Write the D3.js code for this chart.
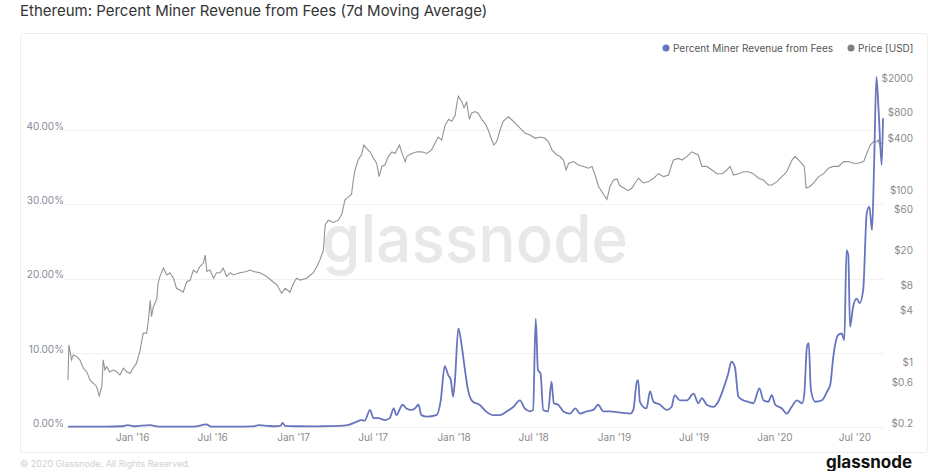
<!DOCTYPE html>
<html>
<head>
<meta charset="utf-8">
<script src="https://cdn.jsdelivr.net/npm/d3@7"></script>
<style>
  body { margin: 0; background: #fff; }
  svg { font-family: Inter, "Noto Sans", sans-serif; }
</style>
</head>
<body>
<div id="d3-container"></div>
<script>
const price = [
  ["2015-08-08",0.70],["2015-08-10",1.79],["2015-08-16",1.20],["2015-08-20",1.37],["2015-08-28",1.31],["2015-09-04",1.20],["2015-09-12",0.96],["2015-09-20",0.87],["2015-09-27",0.70],["2015-10-05",0.64],["2015-10-12",0.59],["2015-10-18",0.46],["2015-10-24",0.59],["2015-10-27",1.20],["2015-10-31",0.92],["2015-11-04",1.00],["2015-11-11",0.87],["2015-11-19",0.92],["2015-11-27",0.87],["2015-12-04",0.80],["2015-12-12",0.96],["2015-12-20",0.87],["2015-12-27",0.84],
  ["2016-01-03",0.96],["2016-01-11",1.10],["2016-01-19",1.56],["2016-01-26",2.45],["2016-02-03",2.45],["2016-02-07",3.5],["2016-02-11",5.9],["2016-02-14",3.8],["2016-02-18",4.9],["2016-02-26",6.1],["2016-02-29",9.3],["2016-03-04",11.1],["2016-03-12",13.9],["2016-03-20",11.6],["2016-03-27",12.3],["2016-04-04",10.6],["2016-04-11",8.1],["2016-04-19",7.7],["2016-04-26",7.3],["2016-05-04",9.6],["2016-05-12",10.1],["2016-05-19",13.2],["2016-05-27",12.3],["2016-06-03",14.5],["2016-06-11",15.9],["2016-06-15",19.7],["2016-06-19",12.7],["2016-06-26",13.2],["2016-07-04",10.6],["2016-07-11",12.3],["2016-07-19",12.3],["2016-07-26",13.9],["2016-08-03",11.1],["2016-08-11",12.3],["2016-08-18",11.6],["2016-09-02",12.3],["2016-09-18",12.7],["2016-09-25",13.2],["2016-10-03",12.7],["2016-10-18",12.3],["2016-11-02",11.1],["2016-11-17",9.6],["2016-11-25",8.9],["2016-12-02",7.7],["2016-12-06",7.1],["2016-12-14",8.1],["2016-12-25",7.3],
  ["2017-01-02",9.3],["2017-01-09",10.6],["2017-01-17",10.1],["2017-02-01",10.6],["2017-02-16",12.3],["2017-02-24",14.5],["2017-03-03",17.3],["2017-03-11",22.5],["2017-03-15",44],["2017-03-22",50],["2017-04-03",47],["2017-04-14",50],["2017-04-22",59],["2017-04-29",86],["2017-05-07",93],["2017-05-14",100],["2017-05-18",146],["2017-05-22",191],["2017-05-29",249],["2017-06-06",290],["2017-06-11",372],["2017-06-17",340],["2017-06-25",310],["2017-07-03",260],["2017-07-10",229],["2017-07-16",160],["2017-07-22",210],["2017-07-29",218],["2017-08-06",275],["2017-08-14",310],["2017-08-21",297],["2017-08-31",372],["2017-09-05",310],["2017-09-13",239],["2017-09-17",275],["2017-09-28",297],["2017-10-10",310],["2017-10-21",310],["2017-11-01",297],["2017-11-12",326],["2017-11-20",390],["2017-11-27",460],["2017-12-05",425],["2017-12-13",635],["2017-12-21",740],["2017-12-28",700],
  ["2018-01-05",829],["2018-01-08",1082],["2018-01-12",1370],["2018-01-20",1170],["2018-01-25",1010],["2018-01-31",1170],["2018-02-06",740],["2018-02-11",870],["2018-02-19",910],["2018-02-26",870],["2018-03-06",740],["2018-03-14",660],["2018-03-21",555],["2018-03-29",425],["2018-04-03",372],["2018-04-09",405],["2018-04-17",555],["2018-04-24",700],["2018-05-06",790],["2018-05-14",725],["2018-05-25",635],["2018-06-02",580],["2018-06-13",510],["2018-06-24",486],["2018-07-06",445],["2018-07-17",460],["2018-07-28",445],["2018-08-05",405],["2018-08-13",326],["2018-08-24",285],["2018-08-31",275],["2018-09-08",249],["2018-09-14",191],["2018-09-20",229],["2018-10-01",239],["2018-10-12",218],["2018-10-24",210],["2018-11-04",200],["2018-11-12",210],["2018-11-19",167],["2018-11-27",123],["2018-12-08",100],["2018-12-16",87],["2018-12-23",123],["2018-12-31",146],
  ["2019-01-08",150],["2019-01-14",126],["2019-01-23",118],["2019-02-02",110],["2019-02-11",118],["2019-02-18",135],["2019-02-26",153],["2019-03-09",135],["2019-03-21",140],["2019-04-01",153],["2019-04-12",173],["2019-04-24",160],["2019-05-05",167],["2019-05-16",249],["2019-05-28",260],["2019-06-05",249],["2019-06-16",275],["2019-06-27",310],["2019-07-05",297],["2019-07-12",285],["2019-07-20",210],["2019-07-31",210],["2019-08-12",191],["2019-08-23",173],["2019-09-04",173],["2019-09-15",191],["2019-09-22",210],["2019-09-30",167],["2019-10-11",173],["2019-10-23",182],["2019-11-03",182],["2019-11-14",173],["2019-11-26",153],["2019-12-07",146],["2019-12-18",128],["2019-12-26",128],
  ["2020-01-07",140],["2020-01-18",160],["2020-01-29",182],["2020-02-10",249],["2020-02-17",275],["2020-02-28",240],["2020-03-09",210],["2020-03-13",118],["2020-03-22",123],["2020-03-30",135],["2020-04-11",160],["2020-04-22",173],["2020-05-03",200],["2020-05-14",210],["2020-05-26",210],["2020-06-06",239],["2020-06-17",239],["2020-06-29",229],["2020-07-10",229],["2020-07-22",239],["2020-07-29",297],["2020-08-06",372],["2020-08-13",405],["2020-08-21",405],["2020-08-24",425],["2020-08-28",372],["2020-09-01",390],["2020-09-04",405]
];

const feePct = [
  ["2015-08-08",0.05],["2015-09-15",0.05],["2015-11-01",0.05],["2015-12-10",0.1],["2015-12-22",0.25],["2016-01-05",0.1],["2016-02-10",0.25],["2016-03-01",0.05],["2016-04-15",0.05],["2016-05-20",0.05],["2016-06-18",0.35],["2016-06-28",0.05],["2016-08-15",0.05],["2016-10-01",0.08],["2016-10-15",0.25],["2016-11-05",0.15],["2016-11-20",0.1],["2016-12-04",0.2],["2016-12-08",0.55],["2016-12-14",0.15],
  ["2017-01-10",0.1],["2017-02-15",0.08],["2017-03-20",0.12],["2017-04-15",0.15],["2017-05-05",0.25],["2017-05-25",0.7],["2017-06-05",0.94],["2017-06-13",0.85],["2017-06-25",2.3],["2017-07-03",1.2],["2017-07-14",1.2],["2017-07-29",0.94],["2017-08-09",1.2],["2017-08-18",2.5],["2017-08-24",1.6],["2017-09-07",3.0],["2017-09-16",2.5],["2017-09-27",2.3],["2017-10-05",2.5],["2017-10-13",3.0],["2017-10-20",1.6],["2017-11-01",1.4],["2017-11-23",1.6],["2017-12-03",3.6],["2017-12-12",8.2],["2017-12-20",7.0],["2017-12-26",6.3],["2017-12-31",4.1],
  ["2018-01-04",6.1],["2018-01-12",13.3],["2018-01-20",10.8],["2018-01-27",7.7],["2018-02-03",5.0],["2018-02-14",3.4],["2018-03-01",3.0],["2018-03-16",2.1],["2018-04-01",1.6],["2018-04-16",1.6],["2018-05-02",2.1],["2018-05-17",2.7],["2018-06-01",3.6],["2018-06-12",2.5],["2018-06-24",2.1],["2018-07-01",2.3],["2018-07-07",14.6],["2018-07-12",7.7],["2018-07-18",7.2],["2018-07-24",2.3],["2018-08-04",2.1],["2018-08-12",6.1],["2018-08-17",3.2],["2018-08-27",3.0],["2018-09-08",2.1],["2018-09-23",1.8],["2018-10-05",2.5],["2018-10-16",1.8],["2018-10-31",2.1],["2018-11-15",2.3],["2018-11-26",3.0],["2018-12-08",2.1],["2018-12-23",2.1],
  ["2019-01-08",2.0],["2019-01-22",1.9],["2019-02-07",1.8],["2019-02-14",2.3],["2019-02-22",6.1],["2019-02-25",6.3],["2019-03-01",3.4],["2019-03-16",2.5],["2019-03-24",4.8],["2019-04-01",3.4],["2019-04-16",3.0],["2019-05-01",2.3],["2019-05-12",2.7],["2019-05-19",4.3],["2019-05-31",3.6],["2019-06-16",3.6],["2019-07-01",4.5],["2019-07-12",3.2],["2019-07-20",3.9],["2019-07-31",3.0],["2019-08-15",2.7],["2019-08-26",3.4],["2019-09-06",5.0],["2019-09-18",7.2],["2019-09-25",8.8],["2019-10-03",8.1],["2019-10-11",4.1],["2019-10-22",3.6],["2019-11-03",3.4],["2019-11-14",3.2],["2019-11-28",5.2],["2019-12-07",3.6],["2019-12-18",3.4],["2019-12-26",4.3],
  ["2020-01-03",3.0],["2020-01-18",2.5],["2020-01-29",1.8],["2020-02-09",2.7],["2020-02-21",3.6],["2020-03-04",3.2],["2020-03-09",4.5],["2020-03-15",10.8],["2020-03-19",11.3],["2020-03-24",5.0],["2020-04-03",3.4],["2020-04-18",3.6],["2020-04-30",4.8],["2020-05-07",5.7],["2020-05-14",9.5],["2020-05-25",12.4],["2020-06-02",12.6],["2020-06-08",11.7],["2020-06-13",23.8],["2020-06-17",23.2],["2020-06-21",13.5],["2020-06-28",16.2],["2020-07-06",17.3],["2020-07-13",16.7],["2020-07-21",18.5],["2020-07-29",28.8],["2020-08-04",29.7],["2020-08-10",26.5],["2020-08-15",36.0],["2020-08-20",47.2],["2020-08-25",42.7],["2020-09-01",35.3],["2020-09-04",41.6]
];

const pctTicks = [0, 10, 20, 30, 40];
const priceTicks = [0.2, 0.6, 1, 4, 8, 20, 60, 100, 400, 800, 2000];
const dateTicks = ["2016-01-01","2016-07-01","2017-01-01","2017-07-01","2018-01-01","2018-07-01","2019-01-01","2019-07-01","2020-01-01","2020-07-01"];

const width = 945;
const height = 471;
const margin = { top: 82, bottom: 44, left: 68, right: 62 };

const parse = d3.timeParse("%Y-%m-%d");
const priceData = price.map(d => ({ date: parse(d[0]), value: d[1] }));
const feeData = feePct.map(d => ({ date: parse(d[0]), value: d[1] }));

const svg = d3.select('#d3-container')
  .append('svg')
  .attr('width', width)
  .attr('height', height)
  .attr("viewBox", [0, 0, width, height]);

// panel
svg.append("rect")
  .attr("x", 20.5).attr("y", 33.5)
  .attr("width", 907).attr("height", 419)
  .attr("rx", 3)
  .attr("fill", "#fff")
  .attr("stroke", "#ededed");

svg.append("text")
  .attr("x", 20).attr("y", 16)
  .attr("fill", "#333")
  .attr("font-size", 15)
  .text("Ethereum: Percent Miner Revenue from Fees (7d Moving Average)");

const x = d3.scaleTime()
  .domain(d3.extent(priceData, d => d.date))
  .range([margin.left, width - margin.right]);

const yPct = d3.scaleLinear()
  .domain([0, 46.5])
  .range([height - margin.bottom, margin.top]);

const yPrice = d3.scaleLog()
  .domain([0.2, 2000])
  .range([height - margin.bottom, margin.top]);

// gridlines
svg.append("g")
  .selectAll("line")
  .data(pctTicks)
  .join("line")
    .attr("x1", margin.left - 4)
    .attr("x2", width - margin.right)
    .attr("y1", d => Math.round(yPct(d)) + 0.5)
    .attr("y2", d => Math.round(yPct(d)) + 0.5)
    .attr("stroke", "#f1f1f1");

// watermark
svg.append("text")
  .attr("x", 322).attr("y", 262)
  .attr("fill", "#e8e8e8")
  .attr("font-size", 66)
  .attr("font-weight", 500)
  .attr("textLength", 306)
  .attr("lengthAdjust", "spacingAndGlyphs")
  .text("glassnode");

function yAxisLeft(g) {
  g.attr("transform", `translate(${margin.left - 4}, -4)`)
    .call(d3.axisLeft(yPct).tickValues(pctTicks).tickSize(0).tickPadding(0).tickFormat(d => d.toFixed(2) + "%"))
    .call(g => g.select(".domain").remove())
    .attr("font-size", 10)
    .attr("font-family", null)
    .selectAll("text").attr("fill", "#8a8a9a");
}

function yAxisRight(g) {
  g.attr("transform", `translate(${width - 32}, -4)`)
    .call(d3.axisLeft(yPrice).tickValues(priceTicks).tickSize(0).tickPadding(0).tickFormat(d => "$" + d))
    .call(g => g.select(".domain").remove())
    .attr("font-size", 10)
    .attr("font-family", null)
    .selectAll("text").attr("fill", "#8a8a8a");
}

function xAxis(g) {
  g.attr("transform", `translate(0,${height - margin.bottom})`)
    .call(d3.axisBottom(x).tickValues(dateTicks.map(parse)).tickSize(0).tickPadding(7).tickFormat(d3.timeFormat("%b '%y")))
    .call(g => g.select(".domain").remove())
    .attr("font-size", 10)
    .attr("font-family", null)
    .selectAll("text").attr("fill", "#8a8a8a");
}

svg.append("g").call(yAxisLeft);
svg.append("g").call(yAxisRight);
svg.append("g").call(xAxis);

const priceLine = d3.line()
  .x(d => x(d.date))
  .y(d => yPrice(d.value));

const feeLine = d3.line()
  .curve(d3.curveMonotoneX)
  .x(d => x(d.date))
  .y(d => yPct(d.value));

svg.append("path")
  .datum(priceData)
  .attr("fill", "none")
  .attr("stroke", "#939393")
  .attr("stroke-width", 1.1)
  .attr("d", priceLine);

svg.append("path")
  .datum(feeData)
  .attr("fill", "none")
  .attr("stroke", "#6675bd")
  .attr("stroke-width", 1.8)
  .attr("stroke-linejoin", "round")
  .attr("d", feeLine);

// legend
const legend = [
  { label: "Percent Miner Revenue from Fees", color: "#6675bd", x: 666 },
  { label: "Price [USD]", color: "#808080", x: 851 }
];
const lg = svg.append("g")
  .selectAll("g")
  .data(legend)
  .join("g")
    .attr("transform", d => `translate(${d.x},48)`);
lg.append("circle").attr("r", 3.5).attr("fill", d => d.color);
lg.append("text")
  .attr("x", 7).attr("dy", "0.35em")
  .attr("font-size", 10)
  .attr("fill", "#555")
  .text(d => d.label);

// footer
svg.append("text")
  .attr("x", 20).attr("y", 467)
  .attr("font-size", 9)
  .attr("fill", "#d0d0d0")
  .text("© 2020 Glassnode. All Rights Reserved.");

svg.append("text")
  .attr("x", 826).attr("y", 468)
  .attr("font-size", 17)
  .attr("font-weight", 700)
  .attr("fill", "#111")
  .text("glassnode");
</script>
</body>
</html>
